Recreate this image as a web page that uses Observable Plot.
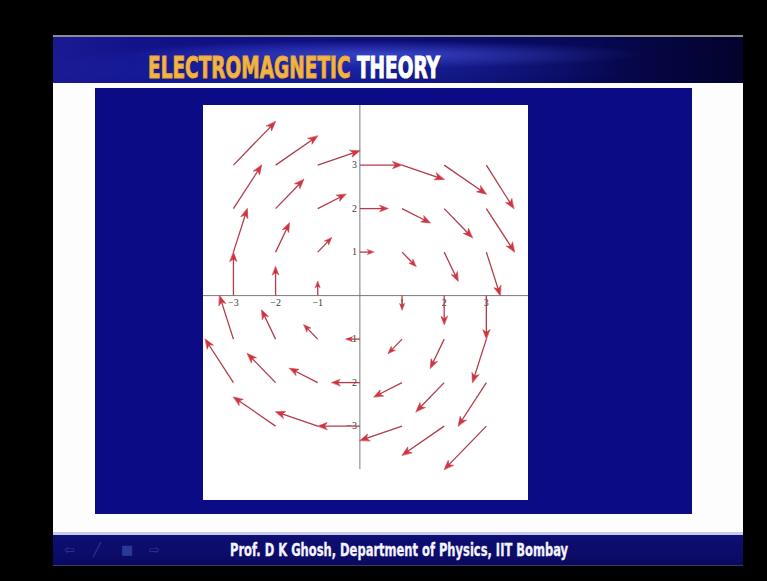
<!DOCTYPE html>
<html>
<head>
<meta charset="utf-8">
<script src="https://cdn.jsdelivr.net/npm/d3@7"></script>
<script src="https://cdn.jsdelivr.net/npm/@observablehq/plot@0.6"></script>
<style>
  html, body { margin: 0; padding: 0; background: #000; }
  body { width: 767px; height: 581px; position: relative; overflow: hidden; }
  .abs { position: absolute; }
  #topline { left: 53px; top: 35px; width: 690px; height: 2px; background: #8c8c90; }
  #header {
    left: 53px; top: 37px; width: 690px; height: 46px;
    background:
      radial-gradient(ellipse 260px 14px at 48% 38%, rgba(90,110,255,0.5), rgba(90,110,255,0) 100%),
      radial-gradient(ellipse 300px 30px at 40% 70%, rgba(40,60,210,0.5), rgba(40,60,210,0) 100%),
      linear-gradient(to right, #1a1a92 0%, #12128a 12%, #0c0c78 45%, #08085a 75%, #03032c 100%);
  }
  #title {
    left: 148px; top: 49px; height: 36px; line-height: 36px; white-space: nowrap;
    font-family: "Liberation Sans Narrow", "DejaVu Sans Condensed", sans-serif;
    font-weight: bold; font-size: 31px; transform-origin: 0 50%;
    text-shadow: 1px 1px 1px rgba(0,0,0,0.5);
  }
  #title .a { color: #f1b448; -webkit-text-stroke: 1.1px #eaa73c; }
  #title .b { color: #ffffff; -webkit-text-stroke: 1.1px #ffffff; }
  #slide { left: 53px; top: 83px; width: 690px; height: 451px; background: #fdfdfd; }
  #panel { left: 95px; top: 88px; width: 597px; height: 426px; background: #0b0b86; }
  #chart { left: 203px; top: 105px; width: 325px; height: 395px; background: #fff; }
  #footline { left: 53px; top: 532px; width: 690px; height: 3px; background: #c9c9ee; }
  #footer {
    left: 53px; top: 535px; width: 690px; height: 30px;
    background: linear-gradient(to bottom, #0e0e74, #0a0a62);
    border-bottom: 1px solid #3a3a5a;
  }
  #credit {
    left: 230px; top: 535px; height: 30px; line-height: 30px; white-space: nowrap;
    font-family: "Liberation Sans Narrow", "DejaVu Sans Condensed", sans-serif;
    font-weight: bold; font-size: 17px; color: #f4f4ff; transform-origin: 0 50%;
    -webkit-text-stroke: 0.3px #f4f4ff;
  }
  .icon {
    top: 535px; height: 30px; line-height: 30px; font-size: 13px;
    font-family: "DejaVu Sans", sans-serif; color: #2c3896;
  }
</style>
</head>
<body>
<div class="abs" id="topline"></div>
<div class="abs" id="header"></div>
<div class="abs" id="title"><span class="a">ELECTROMAGNETIC</span> <span class="b">THEORY</span></div>
<div class="abs" id="slide"></div>
<div class="abs" id="panel"></div>
<div class="abs" id="chart"></div>
<div class="abs" id="footline"></div>
<div class="abs" id="footer"></div>
<div class="abs icon" style="left:64px">⇦</div>
<div class="abs icon" style="left:93px">╱</div>
<div class="abs icon" style="left:121px">■</div>
<div class="abs icon" style="left:149px">⇨</div>
<div class="abs" id="credit">Prof. D K Ghosh, Department of Physics, IIT Bombay</div>

<script>
// Grid of sample points (columns left to right, rows top to bottom)
const gridX = [-3, -2, -1, 0, 1, 2, 3];
const gridY = [3, 2, 1, 0, -1, -2, -3];

// Arrow components in axis units, one row per gridY value; null = no arrow
const arrowU = [
  [1, 1, 1, 1, 1, 1, 0.65],
  [0.67, 0.67, 0.67, 0.67, 0.67, 0.67, 0.67],
  [0.33, 0.33, 0.33, 0.33, 0.33, 0.33, 0.33],
  [0, 0, 0, null, 0, 0, 0],
  [-0.33, -0.33, -0.33, -0.33, -0.33, -0.33, -0.33],
  [-0.67, -0.67, -0.67, -0.67, -0.67, -0.67, -0.67],
  [null, -1, -1, -1, -1, -1, -1]
];
const arrowV = [
  [1, 0.67, 0.33, 0, -0.33, -0.67, -1],
  [1, 0.67, 0.33, 0, -0.33, -0.67, -1],
  [1, 0.67, 0.33, 0, -0.33, -0.67, -1],
  [1, 0.67, 0.33, null, -0.33, -0.67, -1],
  [1, 0.67, 0.33, 0, -0.33, -0.67, -1],
  [1, 0.67, 0.33, 0, -0.33, -0.67, -1],
  [null, 0.67, 0.33, 0, -0.33, -0.67, -1]
];

// Axis tick values and their labels
const xTicks = [-3, -2, -1, 1, 2, 3];
const xTickLabels = ["−3", "−2", "−1", "1", "2", "3"];
const yTicks = [3, 2, 1, -1, -2, -3];
const yTickLabels = ["3", "2", "1", "−1", "−2", "−3"];

const W = 325, H = 395;
const xDomain = [-3.71, 4.0];
const yDomain = [-4.71, 4.37];
const kx = W / (xDomain[1] - xDomain[0]);   // px per unit
const ky = H / (yDomain[1] - yDomain[0]);

const arrows = [];
gridY.forEach((y, r) => gridX.forEach((x, c) => {
  const u = arrowU[r][c], v = arrowV[r][c];
  if (u == null || v == null) return;
  const px = Math.hypot(u * kx, v * ky);
  const head = Math.min(9.5, 4.5 + 6 * Math.hypot(u, v));
  const trim = 1 - (head * 0.55) / px;
  arrows.push({
    x, y, u, v,
    x2: x + u, y2: y + v,
    xs: x + u * trim, ys: y + v * trim,
    head,
    angle: Math.atan2(u * kx, v * ky) * 180 / Math.PI
  });
}));

// Filled stealth-style arrowhead, tip at the vector end
const stealth = {
  draw(context, l) {
    const w = l * 0.38;
    context.moveTo(0, -l);
    context.lineTo(w, 0);
    context.lineTo(0, -l * 0.28);
    context.lineTo(-w, 0);
    context.closePath();
  }
};

const serif = "'Liberation Serif', 'DejaVu Serif', serif";

const chart = Plot.plot({
  width: W,
  height: H,
  margin: 0,
  x: {domain: xDomain, axis: null},
  y: {domain: yDomain, axis: null},
  length: {type: "identity"},
  style: {background: "#fff", overflow: "visible"},
  marks: [
    Plot.ruleY([0], {stroke: "#7a7a7a", strokeWidth: 1}),
    Plot.ruleX([0], {y1: -4, y2: yDomain[1], stroke: "#7a7a7a", strokeWidth: 1}),
    Plot.text(xTicks, {x: d => d, y: 0, text: (d, i) => xTickLabels[i], dy: 7,
      fontSize: 10, fontFamily: serif, fill: "#3a3a3a"}),
    Plot.text(yTicks, {x: 0, y: d => d, text: (d, i) => yTickLabels[i], dx: -3,
      textAnchor: "end", fontSize: 10, fontFamily: serif, fill: "#3a3a3a"}),
    Plot.link(arrows, {x1: "x", y1: "y", x2: "xs", y2: "ys",
      stroke: "#b03c4a", strokeWidth: 1.3}),
    Plot.vector(arrows, {x: "x2", y: "y2", rotate: "angle", length: "head",
      anchor: "end", shape: stealth, fill: "#d4323e", stroke: "#c4303e", strokeWidth: 0.5})
  ]
});
document.getElementById("chart").appendChild(chart);

// Fit the condensed header and footer lines to their widths
function fitWidth(id, target) {
  const el = document.getElementById(id);
  const w = el.getBoundingClientRect().width;
  el.style.transform = `scaleX(${target / w})`;
}
fitWidth("title", 292);
fitWidth("credit", 338);
</script>
</body>
</html>
